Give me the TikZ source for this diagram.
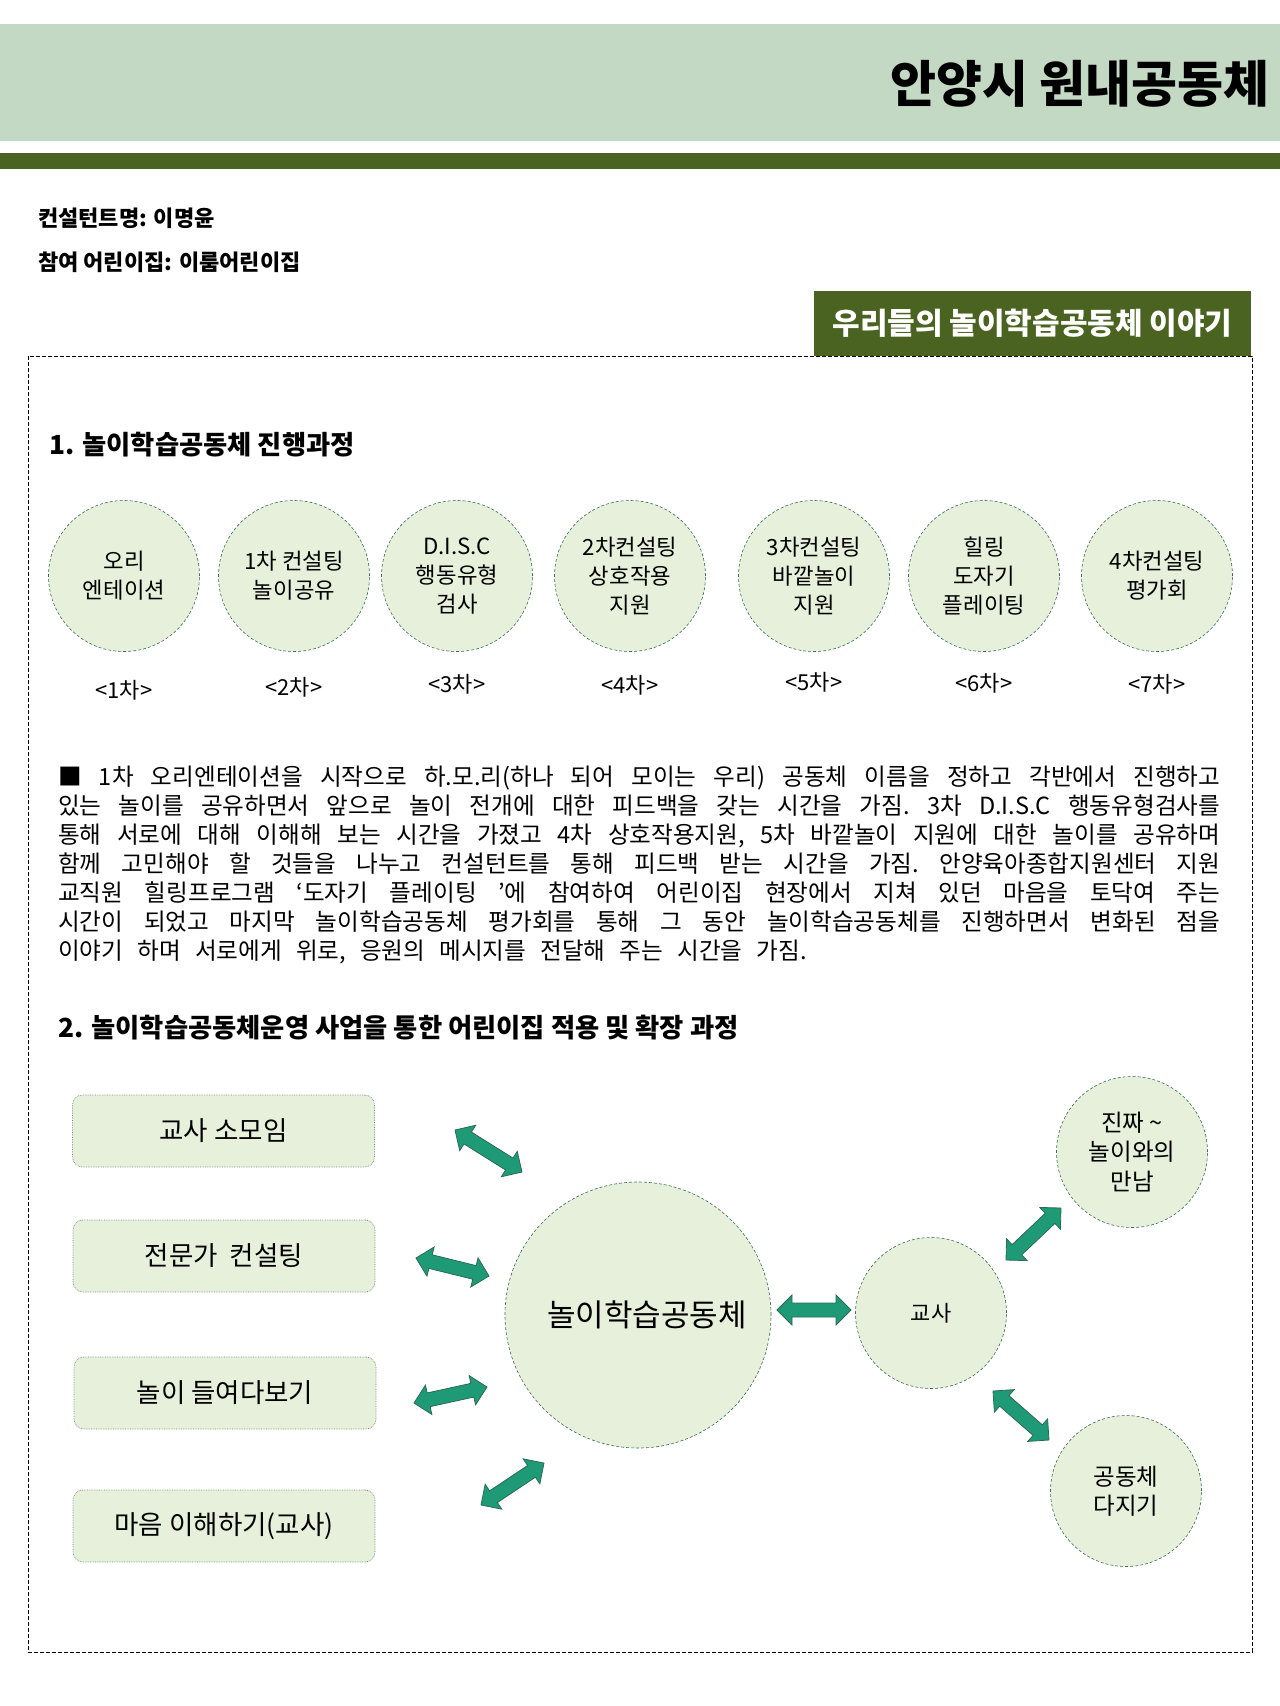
\documentclass[tikz,border=0pt]{standalone}
\usepackage{fontspec}
\setmainfont{Noto Sans CJK KR}
\usetikzlibrary{positioning,calc}

\definecolor{bandgreen}{HTML}{C3D9C4}
\definecolor{olive}{HTML}{4A6321}
\definecolor{leaf}{HTML}{E6F0DA}
\definecolor{rim}{HTML}{3E6B58}
\definecolor{boxrim}{HTML}{7A8C80}
\definecolor{arrowgreen}{HTML}{1F9A77}
\definecolor{arrowrim}{HTML}{2D6A55}

\begin{document}
\begin{tikzpicture}[
    x=1pt, y=-1pt,
    stepcircle/.style={circle, draw=rim, densely dashed, line width=0.6pt, fill=leaf, minimum size=151pt, inner sep=0pt, align=center, font=\fontsize{22.3}{29}\selectfont},
    steplabel/.style={inner sep=2pt, font=\fontsize{22}{26}\selectfont},
    spokebox/.style={draw=boxrim, densely dotted, line width=0.7pt, fill=leaf, rounded corners=10pt, minimum width=302pt, minimum height=72pt, font=\fontsize{26.5}{30}\selectfont},
    hubcircle/.style={circle, draw=rim, densely dashed, line width=0.6pt, fill=leaf, inner sep=0pt, align=center, font=\fontsize{23.5}{29.5}\selectfont},
    heading/.style={anchor=west, inner sep=0pt, font=\fontsize{26.3}{30}\selectfont\bfseries},
    blockarrow/.style={draw=arrowrim, fill=arrowgreen, line width=0.8pt, line join=miter,
      to path={let \p1=(\tikztostart), \p2=(\tikztotarget),
        \n1={atan2(\y2-\y1,\x2-\x1)}, \n2={veclen(\x2-\x1,\y2-\y1)} in
        {[shift={(\p1)}, rotate=\n1]
          (0pt,0pt) -- (15pt,15pt) -- (15pt,7pt) -- ({\n2*1pt-15pt},7pt) -- ({\n2*1pt-15pt},15pt)
          -- ({\n2*1pt},0pt) -- ({\n2*1pt-15pt},-15pt) -- ({\n2*1pt-15pt},-7pt)
          -- (15pt,-7pt) -- (15pt,-15pt) -- cycle}}}
]
\useasboundingbox (0,0) rectangle (1280,1706);

% header
\fill[bandgreen] (0,24) rectangle (1280,141);
\fill[olive] (0,153) rectangle (1280,169);
\node[anchor=east, inner sep=0pt, font=\fontsize{50}{54}\selectfont\bfseries] (title) at (1270,84) {안양시 원내공동체};
\node[anchor=west, inner sep=0pt, font=\fontsize{22}{26}\selectfont\bfseries] (consultant) at (38,218) {컨설턴트명: 이명윤};
\node[anchor=west, inner sep=0pt, font=\fontsize{22}{26}\selectfont\bfseries] (daycare) at (38,262) {참여 어린이집: 이룸어린이집};

% frame
\draw[dashed, dash pattern=on 4pt off 2pt, line width=0.8pt] (28,356) rectangle (1252,1652);
\node[fill=olive, text=white, minimum width=437pt, minimum height=65pt, inner sep=0pt,
      font=\fontsize{30}{33}\selectfont\bfseries] (storytab) at (1032.5,323.5) {우리들의 놀이학습공동체 이야기};

% 1. process
\node[heading] (stepshead) at (49,445) {1. 놀이학습공동체 진행과정};

\node[stepcircle] (s1) at (124,576) {오리\\엔테이션};
\node[stepcircle] (s2) at (294,576) {1차 컨설팅\\놀이공유};
\node[stepcircle] (s3) at (457,576) {D.I.S.C\\행동유형\\검사};
\node[stepcircle] (s4) at (630,576) {2차컨설팅\\상호작용\\지원};
\node[stepcircle] (s5) at (814,576) {3차컨설팅\\바깥놀이\\지원};
\node[stepcircle] (s6) at (984,576) {힐링\\도자기\\플레이팅};
\node[stepcircle] (s7) at (1157,576) {4차컨설팅\\평가회};

\node[steplabel] (l1) [below=26pt of s1] {<1차>};
\node[steplabel] (l2) [below=23pt of s2] {<2차>};
\node[steplabel] (l3) [below=20pt of s3] {<3차>};
\node[steplabel] (l4) [below=21pt of s4] {<4차>};
\node[steplabel] (l5) [below=18pt of s5] {<5차>};
\node[steplabel] (l6) [below=19pt of s6] {<6차>};
\node[steplabel] (l7) [below=20pt of s7] {<7차>};

\node[anchor=north west, inner sep=0pt, text width=1162pt, align=justify,
      font=\fontsize{23.6}{28.9}\selectfont] (story) at (58,766)
{\frenchspacing\spaceskip=0.6em plus 0.8em minus 0.15em\relax
■ 1차 오리엔테이션을 시작으로 하.모.리(하나 되어 모이는 우리) 공동체 이름을 정하고 각반에서 진행하고\linebreak
있는 놀이를 공유하면서 앞으로 놀이 전개에 대한 피드백을 갖는 시간을 가짐. 3차 D.I.S.C 행동유형검사를\linebreak
통해 서로에 대해 이해해 보는 시간을 가졌고 4차 상호작용지원, 5차 바깥놀이 지원에 대한 놀이를 공유하며\linebreak
함께 고민해야 할 것들을 나누고 컨설턴트를 통해 피드백 받는 시간을 가짐. 안양육아종합지원센터 지원\linebreak
교직원 힐링프로그램 ‘도자기 플레이팅 '에 참여하여 어린이집 현장에서 지쳐 있던 마음을 토닥여 주는\linebreak
시간이 되었고 마지막 놀이학습공동체 평가회를 통해 그 동안 놀이학습공동체를 진행하면서 변화된 점을\linebreak
이야기 하며 서로에게 위로, 응원의 메시지를 전달해 주는 시간을 가짐.};

% 2. spread
\node[heading] (spreadhead) at (58,1028) {2. 놀이학습공동체운영 사업을 통한 어린이집 적용 및 확장 과정};

\node[spokebox] (tmeet) at (223.5,1131) {교사 소모임};
\node[spokebox] (expert) at (224,1256) {전문가 \ 컨설팅};
\node[spokebox] (observe) at (225,1393) {놀이 들여다보기};
\node[spokebox] (mind) at (224,1526) {마음 이해하기(교사)};

\node[hubcircle, minimum size=266pt, font=\fontsize{31}{34}\selectfont] (hub) at (638,1315) {\hspace*{18pt}놀이학습공동체};
\node[hubcircle, minimum size=151pt, font=\fontsize{22}{26}\selectfont] (teacher) at (931,1313) {교사};
\node[hubcircle, minimum size=151pt] (realplay) at (1132,1152) {진짜 \textasciitilde\\놀이와의\\만남};
\node[hubcircle, minimum size=151pt] (community) at (1126,1491) {공동체\\다지기};

\coordinate (a1s) at (455,1130); \coordinate (a1e) at (522,1172);
\coordinate (a2s) at (416,1258); \coordinate (a2e) at (489,1276);
\coordinate (a3s) at (414,1403); \coordinate (a3e) at (487,1387);
\coordinate (a4s) at (481,1505); \coordinate (a4e) at (544,1463);
\coordinate (a5s) at (777,1310); \coordinate (a5e) at (851,1310);
\coordinate (a6s) at (1006,1260); \coordinate (a6e) at (1061,1208);
\coordinate (a7s) at (993,1391); \coordinate (a7e) at (1049,1440);

\draw[blockarrow] (a1s) to (a1e);
\draw[blockarrow] (a2s) to (a2e);
\draw[blockarrow] (a3s) to (a3e);
\draw[blockarrow] (a4s) to (a4e);
\draw[blockarrow] (a5s) to (a5e);
\draw[blockarrow] (a6s) to (a6e);
\draw[blockarrow] (a7s) to (a7e);
\end{tikzpicture}
\end{document}
